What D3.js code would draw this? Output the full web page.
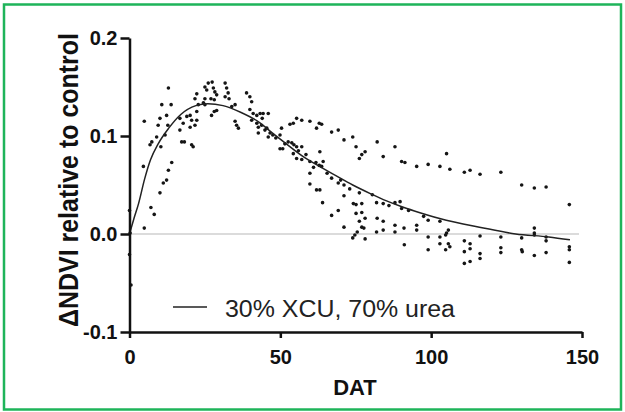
<!DOCTYPE html>
<meta charset="utf-8">

<!-- Load d3.js -->
<script src="https://d3js.org/d3.v7.min.js"></script>

<head>
  <style>
  body { margin: 0; background: white; }
  text { font-family: "Liberation Sans", Arial, sans-serif; }
  </style>
</head>

<body>
<div id="my_dataviz"></div>

<script>

// scatter points: days after treatment and NDVI difference
var pointDAT = [12.9, 4.9, 10.7, 13.8, 10.1, 12.3, 9.5, 12.7, 7.4, 6.8, 10.4, 9.0, 11.8, 4.6, 14.0, 12.9,
  16.7, 19.0, 17.8, 17.3, 18.2, 20.6, 21.1, 16.7, 20.1, 21.7, 20.6, 22.3, 20.1, 22.3, 21.7, 22.3,
  22.8, 24.5, 25.0, 25.0, 25.6, 26.1, 27.4, 27.8, 28.3, 28.9, 27.0, 25.0, 28.1, 27.2, 28.1, 28.9,
  31.7, 32.2, 32.7, 31.7, 33.0, 33.9, 35.0, 35.0, 35.5, 36.1, 38.8, 39.9, 40.5, 39.9, 41.0, 42.2,
  43.3, 44.3, 46.0, 40.5, 42.2, 42.7, 43.8, 44.9, 42.7, 46.6, 46.0,
  50.4, 49.9, 53.2, 54.3, 55.4, 57.1, 59.8, 62.9, 63.7, 62.0, 67.0, 69.2, 71.1, 74.0, 75.1, 77.0,
  78.1, 76.2, 82.1, 88.0, 84.1, 90.2, 91.3, 95.2, 52.6, 53.8, 54.5, 55.4, 57.1, 54.3, 55.4, 57.1,
  49.9, 50.8, 59.8, 61.8, 62.9, 63.7, 64.2, 63.1, 59.8, 59.8, 62.0, 63.1, 67.0, 69.2, 71.1, 64.0,
  71.1, 76.2, 67.0, 69.2, 74.2, 75.1, 77.0, 75.1, 77.0, 78.1, 76.2, 77.0, 77.7, 71.1, 74.0, 74.7,
  75.5, 78.1, 81.9, 84.1, 82.1, 84.1, 81.9, 84.1, 88.0, 89.7, 90.2, 88.0, 91.0, 88.0, 91.1, 95.2, 95.2,
  105.1, 99.0, 102.9, 106.2, 111.0, 112.9, 116.2, 123.1, 130.0, 134.2, 138.1, 145.8, 99.0, 102.9,
  99.0, 102.9, 105.1, 105.7, 104.8, 99.0, 102.9, 105.7, 106.2, 104.8, 111.0, 112.9, 111.0, 112.9,
  116.2, 116.2, 111.0, 112.9, 116.2, 123.1, 123.1, 123.1, 130.0, 130.0, 130.2, 134.2, 134.2, 134.2,
  134.2, 138.1, 138.1, 138.1, 145.8, 145.8, 145.8,
  11.2, 12.3, 10.1, 7.1, 8.2, 4.9, 0, 0.2, 0, 0.5,
  44.0, 45.5, 47.5, 48.5, 51.5, 56.0, 58.5, 61.0, 65.5, 70.0, 73.0, 80.5, 86.0, 92.5, 97.5]

var pointNDVI = [0.149, 0.115, 0.132, 0.132, 0.118, 0.121, 0.111, 0.111, 0.094, 0.091, 0.089, 0.099, 0.101, 0.069, 0.073, 0.065,
  0.118, 0.120, 0.113, 0.094, 0.094, 0.091, 0.089, 0.106, 0.109, 0.111, 0.116, 0.116, 0.121, 0.125, 0.138, 0.143,
  0.132, 0.134, 0.132, 0.150, 0.147, 0.154, 0.155, 0.149, 0.145, 0.142, 0.138, 0.138, 0.137, 0.121, 0.125, 0.126,
  0.154, 0.149, 0.144, 0.140, 0.138, 0.130, 0.132, 0.115, 0.111, 0.108, 0.144, 0.140, 0.135, 0.127, 0.123, 0.121,
  0.123, 0.123, 0.123, 0.116, 0.113, 0.109, 0.111, 0.106, 0.103, 0.103, 0.099,
  0.108, 0.101, 0.112, 0.113, 0.118, 0.116, 0.115, 0.113, 0.112, 0.108, 0.104, 0.106, 0.096, 0.099, 0.089, 0.081,
  0.084, 0.077, 0.094, 0.089, 0.079, 0.074, 0.073, 0.069, 0.094, 0.093, 0.091, 0.089, 0.089, 0.082, 0.077, 0.076,
  0.087, 0.087, 0.074, 0.073, 0.070, 0.069, 0.074, 0.084, 0.062, 0.051, 0.045, 0.045, 0.057, 0.052, 0.050, 0.032,
  0.039, 0.042, 0.019, 0.024, 0.031, 0.030, 0.031, 0.021, 0.022, 0.016, 0.013, 0.007, 0.006, 0.007, -0.004, -0.001,
  0.002, -0.005, 0.032, 0.031, 0.016, 0.013, 0.002, 0.004, 0.032, 0.033, 0.026, 0.009, 0.006, 0.002, -0.011, 0.009, 0.004,
  0.082, 0.071, 0.069, 0.066, 0.063, 0.065, 0.061, 0.063, 0.050, 0.047, 0.048, 0.030, 0.014, 0.013,
  -0.003, -0.003, 0.001, 0.004, -0.001, -0.016, -0.010, -0.010, -0.013, -0.016, -0.007, -0.010, -0.018, -0.015,
  -0.020, -0.025, -0.030, -0.028, -0.002, -0.003, -0.014, -0.019, -0.004, -0.016, -0.018, 0.006, 0.001, -0.001,
  -0.022, -0.003, -0.007, -0.019, -0.013, -0.016, -0.029,
  0.052, 0.055, 0.042, 0.027, 0.020, 0.006, 0.024, 0.001, -0.021, -0.052,
  0.118, 0.108, 0.101, 0.098, 0.092, 0.085, 0.081, 0.068, 0.062, 0.055, 0.046, 0.040, 0.029, 0.024, 0.018]

// fitted curve
var fitDAT  = [0, 1.5, 3, 5, 7, 9.5, 13, 17, 22, 26, 31, 37, 43, 47, 52, 57.6, 63, 68.7, 74, 80, 85, 91, 96, 105, 116, 128, 139, 146]
var fitNDVI = [0, 0.016, 0.031, 0.056, 0.076, 0.092, 0.108, 0.122, 0.131, 0.133, 0.131, 0.124, 0.114, 0.104, 0.092, 0.079, 0.069, 0.059, 0.050, 0.041, 0.034, 0.027, 0.022, 0.014, 0.007, 0.000, -0.003, -0.006]

// axis ticks
var xTicks = [0, 50, 100, 150]
var yTicks = [-0.1, 0.0, 0.1, 0.2]
var yTickLabels = ["-0.1", "0.0", "0.1", "0.2"]
var legendLabel = "30% XCU, 70% urea"

var width = 625, height = 412

var svg = d3.select("#my_dataviz")
  .append("svg")
  .attr("width", width)
  .attr("height", height)

// green frame around the whole figure
svg.append("rect")
  .attr("x", 4).attr("y", 4.5)
  .attr("width", 617).attr("height", 405)
  .attr("fill", "white")
  .attr("stroke", "#1eb45a")
  .attr("stroke-width", 2.5)

var x = d3.scaleLinear().domain([0, 150]).range([129.5, 582])
var y = d3.scaleLinear().domain([-0.1, 0.2]).range([332, 38])

// faint zero line
svg.append("line")
  .attr("x1", x(0)).attr("x2", x(149))
  .attr("y1", y(0)).attr("y2", y(0))
  .attr("stroke", "#cfcfcf")
  .attr("stroke-width", 1.5)

// points
var pts = d3.zip(pointDAT, pointNDVI)
svg.selectAll("circle.pt")
  .data(pts)
  .enter()
  .append("circle")
  .attr("class", "pt")
  .attr("cx", function(d) { return x(d[0]) })
  .attr("cy", function(d) { return y(d[1]) })
  .attr("r", 1.8)
  .attr("fill", "#151515")

// fitted curve
var line = d3.line()
  .x(function(d) { return x(d[0]) })
  .y(function(d) { return y(d[1]) })
  .curve(d3.curveMonotoneX)

svg.append("path")
  .datum(d3.zip(fitDAT, fitNDVI))
  .attr("d", line)
  .attr("fill", "none")
  .attr("stroke", "#222")
  .attr("stroke-width", 1.5)

// axes
var xAxis = svg.append("g")
  .attr("transform", "translate(0," + y(-0.1) + ")")
  .call(d3.axisBottom(x).tickValues(xTicks).tickSize(6).tickPadding(12).tickSizeOuter(0))
var yAxis = svg.append("g")
  .attr("transform", "translate(" + x(0) + ",0)")
  .call(d3.axisLeft(y).tickValues(yTicks).tickSize(9).tickPadding(3).tickSizeOuter(0)
    .tickFormat(function(d, i) { return yTickLabels[i] }))

svg.selectAll(".domain, .tick line")
  .attr("stroke", "#111")
  .attr("stroke-width", 2.5)
svg.selectAll(".tick text")
  .attr("fill", "#111")
  .style("font-size", "20px")
  .style("font-weight", "bold")
  .style("font-family", "'Liberation Sans', Arial, sans-serif")

// axis titles
svg.append("text")
  .attr("x", 355).attr("y", 395)
  .attr("text-anchor", "middle")
  .style("font-size", "22px")
  .style("font-weight", "bold")
  .attr("fill", "#111")
  .text("DAT")

svg.append("text")
  .attr("transform", "translate(78,180) rotate(-90)")
  .attr("text-anchor", "middle")
  .attr("textLength", 294)
  .attr("lengthAdjust", "spacingAndGlyphs")
  .style("font-size", "27px")
  .style("font-weight", "bold")
  .attr("fill", "#111")
  .text("ΔNDVI relative to control")

// legend
svg.append("line")
  .attr("x1", 173).attr("x2", 207)
  .attr("y1", 307).attr("y2", 307)
  .attr("stroke", "#222")
  .attr("stroke-width", 1.5)
svg.append("text")
  .attr("x", 225).attr("y", 317)
  .attr("textLength", 230)
  .attr("lengthAdjust", "spacingAndGlyphs")
  .style("font-size", "23px")
  .attr("fill", "#222")
  .text(legendLabel)

</script>
</body>
